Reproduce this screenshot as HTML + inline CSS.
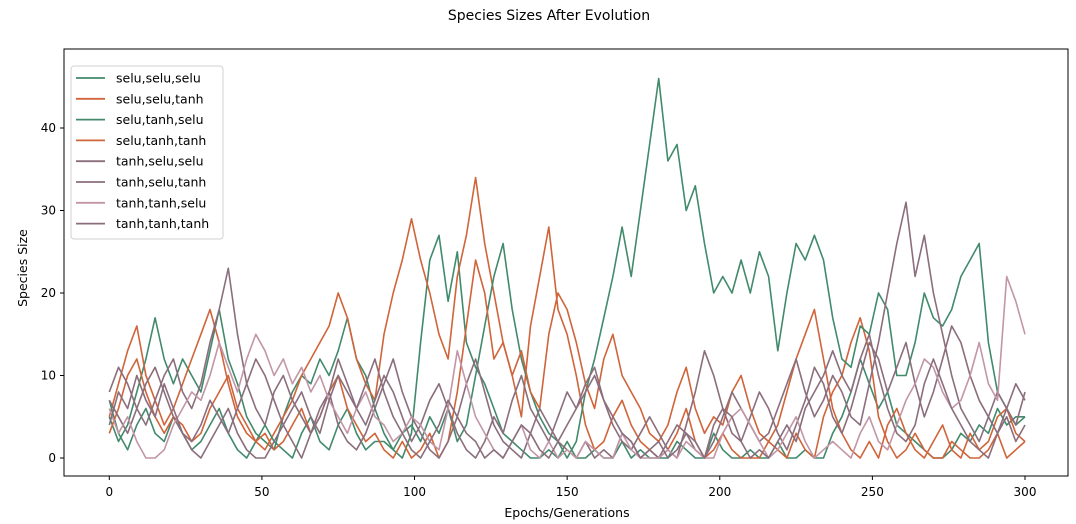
<!DOCTYPE html>
<html><head><meta charset="utf-8"><style>
html,body{margin:0;padding:0;background:#fff;}
svg{display:block;font-family:"DejaVu Sans","Liberation Sans",sans-serif;}
</style></head><body>
<svg id="chart" width="1076" height="524" viewBox="0 0 1076 524">
<text x="549" y="20" font-size="14" text-anchor="middle" fill="#000">Species Sizes After Evolution</text>
<rect x="64" y="49" width="1004" height="427" fill="none" stroke="#000" stroke-width="1"/>
<g id="series"></g>
<g id="axes"></g>
<text x="567" y="517" font-size="12.5" text-anchor="middle">Epochs/Generations</text>
<text x="27" y="268" font-size="12.5" text-anchor="middle" transform="rotate(-90 27 268)">Species Size</text>
<g id="legend"></g>
</svg>
<script>
const seriesNames = ["selu,selu,selu","selu,selu,tanh","selu,tanh,selu","selu,tanh,tanh","tanh,selu,selu","tanh,selu,tanh","tanh,tanh,selu","tanh,tanh,tanh"];
const xTicks = [0,50,100,150,200,250,300];
const yTicks = [0,10,20,30,40];
const green1 = [5,2,4,8,12,17,12,9,12,10, 8,13,18,12,9,5,3,2,1,5, 8,10,9,12,10,13,17,12,10,6, 3,1,0,3,14,24,27,19,25,14, 11,9,6,3,2,1,0,0,1,0, 2,0,0,1,0,0,2,0,1,0, 0,0,2,1,0,0,3,1,0,0, 1,0,0,2,0,0,1,0,0,3, 5,8,12,9,6,8,4,3,2,1, 0,0,1,3,2,4,3,6,4,5,5];
const orange1 = [5,9,13,16,10,7,4,6,9,12, 15,18,14,9,5,3,2,1,3,5, 7,10,12,14,16,20,17,12,9,7, 15,20,24,29,24,20,15,12,22,27, 34,26,20,14,10,5,16,22,28,18, 15,10,4,1,2,5,7,4,2,1, 0,1,3,6,2,0,1,3,1,0, 0,0,2,1,0,3,1,0,5,8, 10,14,17,13,5,2,0,1,3,1, 0,0,2,1,0,0,1,3,0,1,2];
const green2 = [7,3,1,4,6,3,2,5,3,1, 2,4,6,3,1,0,2,4,2,1, 0,3,5,2,1,4,6,3,1,2, 2,1,3,4,2,5,3,6,2,4, 10,16,22,26,18,12,8,5,3,2, 0,2,8,12,17,22,28,22,30,38, 46,36,38,30,33,26,20,22,20,24, 20,25,22,13,20,26,24,27,24,17, 12,11,16,15,20,18,10,10,14,20, 17,16,18,22,24,26,14,8,6,4,5];
const orange2 = [3,6,10,12,8,5,3,5,4,2, 3,6,8,10,6,4,2,3,1,2, 4,6,3,5,8,10,6,4,2,3, 1,0,2,0,1,3,0,2,8,16, 24,20,12,14,10,13,8,6,15,20, 18,14,9,6,12,15,10,8,6,3, 2,4,8,11,6,3,5,4,8,10, 6,3,2,4,8,12,15,18,12,6, 3,1,0,2,0,4,6,3,1,0, 2,4,1,0,3,1,2,5,6,3,2];
const purple1 = [8,11,9,6,4,7,10,12,8,6, 9,14,18,23,15,9,6,4,8,10, 7,5,3,6,8,4,2,1,3,6, 9,12,8,5,3,1,0,2,5,9, 12,8,4,2,1,0,3,6,4,2, 1,0,2,0,1,0,3,2,0,1, 0,2,4,3,1,0,2,5,8,6, 4,2,3,6,9,12,8,5,7,10, 8,5,4,9,14,20,26,31,22,27, 20,15,10,6,4,2,5,8,6,4,8];
const purple2 = [7,5,3,6,9,11,8,5,3,2, 4,7,5,3,6,9,12,10,7,4, 2,0,3,5,8,12,9,6,4,7, 10,8,5,2,4,7,9,6,3,1, 0,2,5,3,7,10,6,4,2,5, 8,6,9,11,7,4,2,1,3,5, 3,1,0,4,8,13,10,6,3,2, 5,8,6,3,1,4,7,11,9,5, 3,6,10,14,12,8,11,14,9,5, 8,12,16,14,10,7,5,3,6,9,7];
const pink1 = [6,3,5,2,0,0,1,4,6,8, 7,10,14,11,8,12,15,13,10,12, 9,11,8,10,7,5,3,6,8,5, 4,2,3,5,4,2,1,6,13,9, 5,3,1,0,2,4,1,0,2,0, 1,0,2,1,0,0,3,1,0,0, 0,1,0,2,1,0,0,3,5,6, 4,2,0,1,3,5,2,0,1,2, 1,0,3,5,2,1,4,7,9,12, 11,8,6,7,10,14,9,7,22,19,15];
const purple3 = [4,8,6,10,7,5,9,6,3,1, 0,2,4,6,3,1,0,0,2,4, 6,8,5,3,7,10,8,6,9,12, 8,5,3,1,0,2,4,7,5,3, 2,0,1,0,2,4,3,1,0,2, 4,6,8,10,7,5,3,2,0,1, 2,0,1,3,2,0,4,6,5,2, 0,1,0,2,4,2,6,8,10,13, 10,8,12,15,10,6,3,2,4,9, 12,9,6,4,2,1,0,3,5,2,4];
const seriesValues = [green1, orange1, green2, orange2, purple1, purple2, pink1, purple3];
const seriesColors = ["#428a6c","#d0643a","#428a6c","#d0643a","#8b6e7c","#8b6e7c","#c296a6","#8b6e7c"];
const xMax = 300;

const NS = "http://www.w3.org/2000/svg";
function xs(v){ return 109.3 + v * (1025 - 109.3) / 300; }
function ys(v){ return 458 - v * 8.25; }

const sg = document.getElementById('series');
seriesValues.forEach((vals, si) => {
  const n = vals.length;
  const pts = vals.map((v, i) => xs(i * xMax / (n - 1)).toFixed(1) + "," + ys(v).toFixed(1)).join(" ");
  const pl = document.createElementNS(NS, 'polyline');
  pl.setAttribute('points', pts);
  pl.setAttribute('fill', 'none');
  pl.setAttribute('stroke', seriesColors[si]);
  pl.setAttribute('stroke-width', '1.6');
  pl.setAttribute('stroke-linejoin', 'round');
  
  
  sg.appendChild(pl);
});

const ag = document.getElementById('axes');
xTicks.forEach(t => {
  const l = document.createElementNS(NS, 'line');
  l.setAttribute('x1', xs(t)); l.setAttribute('x2', xs(t));
  l.setAttribute('y1', 476); l.setAttribute('y2', 480);
  l.setAttribute('stroke', '#000');
  
  
  ag.appendChild(l);
  const tx = document.createElementNS(NS, 'text');
  tx.setAttribute('x', xs(t)); tx.setAttribute('y', 496);
  tx.setAttribute('text-anchor', 'middle'); tx.setAttribute('font-size', '12');
  tx.textContent = t;
  
  
  ag.appendChild(tx);
});
yTicks.forEach(t => {
  const l = document.createElementNS(NS, 'line');
  l.setAttribute('x1', 60); l.setAttribute('x2', 64);
  l.setAttribute('y1', ys(t)); l.setAttribute('y2', ys(t));
  l.setAttribute('stroke', '#000');
  
  
  ag.appendChild(l);
  const tx = document.createElementNS(NS, 'text');
  tx.setAttribute('x', 56); tx.setAttribute('y', ys(t) + 4);
  tx.setAttribute('text-anchor', 'end'); tx.setAttribute('font-size', '12');
  tx.textContent = t;
  
  
  ag.appendChild(tx);
});

const lg = document.getElementById('legend');
const box = document.createElementNS(NS, 'rect');
box.setAttribute('x', 71); box.setAttribute('y', 66); box.setAttribute('width', 152); box.setAttribute('height', 173);
box.setAttribute('rx', 3); box.setAttribute('fill', '#fff'); box.setAttribute('fill-opacity', '0.85');
box.setAttribute('stroke', '#d6d0cc');


lg.appendChild(box);
seriesNames.forEach((nm, i) => {
  const y = 78 + i * 20.8;
  const l = document.createElementNS(NS, 'line');
  l.setAttribute('x1', 76); l.setAttribute('x2', 105);
  l.setAttribute('y1', y); l.setAttribute('y2', y);
  l.setAttribute('stroke', seriesColors[i]); l.setAttribute('stroke-width', '1.8');
  
  
  lg.appendChild(l);
  const tx = document.createElementNS(NS, 'text');
  tx.setAttribute('x', 116); tx.setAttribute('y', y + 4.5);
  tx.setAttribute('font-size', '12.5');
  tx.textContent = nm;
  
  
  lg.appendChild(tx);
});
</script>
</body></html>
